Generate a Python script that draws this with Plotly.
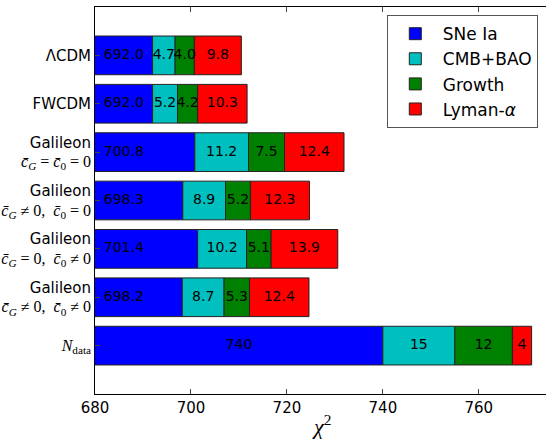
import plotly.graph_objects as go

SERIF = "font-family:Liberation Serif;font-size:16px"
categories = [
    "ΛCDM",
    "FWCDM",
    f"Galileon<br><span style='{SERIF}'><i>c̄</i><sub><i>G</i></sub> = <i>c̄</i><sub>0</sub> = 0</span>",
    f"Galileon<br><span style='{SERIF}'><i>c̄</i><sub><i>G</i></sub> ≠ 0,  <i>c̄</i><sub>0</sub> = 0</span>",
    f"Galileon<br><span style='{SERIF}'><i>c̄</i><sub><i>G</i></sub> = 0,  <i>c̄</i><sub>0</sub> ≠ 0</span>",
    f"Galileon<br><span style='{SERIF}'><i>c̄</i><sub><i>G</i></sub> ≠ 0,  <i>c̄</i><sub>0</sub> ≠ 0</span>",
    f"<span style='{SERIF}'><i>N</i><sub>data</sub></span>",
]
sne = [692.0, 692.0, 700.8, 698.3, 701.4, 698.2, 740]
cmb = [4.7, 5.2, 11.2, 8.9, 10.2, 8.7, 15]
growth = [4.0, 4.2, 7.5, 5.2, 5.1, 5.3, 12]
lya = [9.8, 10.3, 12.4, 12.3, 13.9, 12.4, 4]
series_names = ["SNe Ia", "CMB+BAO", "Growth", "Lyman-<i>α</i>"]
colors = ["#0000FF", "#00BFBF", "#008000", "#FF0000"]
x_ticks = [680, 700, 720, 740, 760]

XMIN, XMAX = 680, 774
n = len(categories)
ypos = list(range(n))

def fmt(v, i):
    return f"{v:.0f}" if i == n - 1 else f"{v:.1f}"

fig = go.Figure()
bases = [0.0] * n
series = [sne, cmb, growth, lya]
for k, (vals, name, col) in enumerate(zip(series, series_names, colors)):
    fig.add_trace(go.Bar(
        y=ypos, x=vals, base=bases, orientation="h", name=name,
        marker=dict(color=col, line=dict(color="#222222", width=1)),
        width=0.8, hoverinfo="skip",
    ))
    tx = []
    for i, v in enumerate(vals):
        b = bases[i]
        if k == 0:
            tx.append((XMIN + v) / 2 if i == n - 1 else XMIN + 6)
        else:
            tx.append(b + v / 2)
    fig.add_trace(go.Scatter(
        y=ypos, x=tx, mode="text", text=[fmt(v, i) for i, v in enumerate(vals)],
        textfont=dict(family="DejaVu Sans", size=14, color="black"),
        showlegend=False, hoverinfo="skip",
    ))
    bases = [b + v for b, v in zip(bases, vals)]

fig.add_annotation(
    text="<i>χ</i><sup>2</sup>", xref="paper", yref="paper", x=0.503, y=-0.04,
    xanchor="center", yanchor="top", showarrow=False,
    font=dict(family="Liberation Serif", size=22),
)

fig.update_layout(
    width=546, height=439,
    margin=dict(l=95, r=0, t=7, b=45),
    barmode="overlay",
    plot_bgcolor="white", paper_bgcolor="white",
    font=dict(family="DejaVu Sans", size=14, color="black"),
    legend=dict(
        x=0.647, y=0.979, xanchor="left", yanchor="top",
        bordercolor="#555555", borderwidth=1, bgcolor="white",
        font=dict(size=17), tracegroupgap=0, itemwidth=45,
    ),
    xaxis=dict(
        range=[XMIN, XMAX], tickvals=x_ticks, ticks="inside", ticklen=5,
        showgrid=False, zeroline=False, showline=True, linecolor="black",
        linewidth=1, mirror="ticks", tickfont=dict(size=15), automargin=False,
    ),
    yaxis=dict(
        range=[n, -1], tickvals=ypos, ticktext=categories, ticks="inside",
        ticklen=5, showgrid=False, zeroline=False, showline=True,
        linecolor="black", linewidth=1, tickfont=dict(size=15), automargin=False,
    ),
)
fig.write_html("out.html", post_script="document.body.style.margin='0';",
               config={"displayModeBar": False})
